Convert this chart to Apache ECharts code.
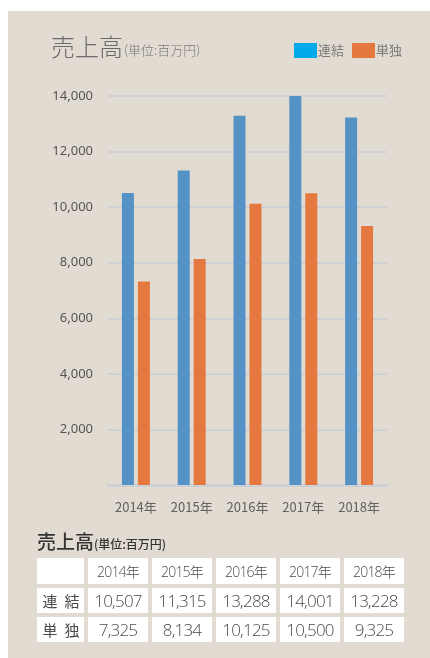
<!DOCTYPE html>
<html><head><meta charset="utf-8">
<script src="https://cdn.jsdelivr.net/npm/echarts@6/dist/echarts.min.js"></script>
<style>
html,body{margin:0;padding:0;background:#fff;width:430px;height:658px;overflow:hidden;}
#bg{position:absolute;left:8px;top:11px;width:422px;height:647px;background:#e1dbd1;}
#chart{position:absolute;left:0;top:0;width:430px;height:658px;}
#tbl{position:absolute;left:37px;top:530px;font-family:"Noto Sans CJK JP","Noto Sans",sans-serif;}
#tbl .ttl{color:#333;font-size:19px;font-weight:500;line-height:22px;height:24px;}
#tbl .ttl span{font-size:12px;}
#tbl table{border-collapse:separate;border-spacing:4px;margin-left:-4px;margin-top:0px;}
#tbl td{background:#fff;color:#4a4a4a;text-align:center;padding:0;font-family:"Open Sans","Noto Sans CJK JP",sans-serif;font-weight:300;}
#tbl tr.h td{height:26px;font-size:14px;letter-spacing:-0.8px;}
#tbl tr.r td{height:25px;font-size:17px;letter-spacing:-0.8px;}
#tbl tr.r td.lab{font-family:"Noto Sans CJK JP",sans-serif;font-size:15px;letter-spacing:0;font-weight:400;}
#tbl td.lab span{display:inline-block;width:14px;}
#tbl td.lab span+span{margin-left:8px;}
</style></head>
<body>
<div id="bg"></div>
<div id="chart"></div>
<div id="tbl"></div>
<script>
var categories = ['2014年','2015年','2016年','2017年','2018年'];
var seriesNames = ['連結','単独'];
var consolidated = [10507, 11315, 13288, 14001, 13228];
var standalone = [7325, 8134, 10125, 10500, 9325];
var tableTitle = '売上高';
var unitText = '(単位:百万円)';

var chart = echarts.init(document.getElementById('chart'), null, {renderer:'canvas'});
var blue = '#5592c6', orange = '#e5783f';
chart.setOption({
  backgroundColor:'transparent',
  animation:false,
  title:{
    text:'{a|'+tableTitle+'}{b|'+unitText+'}',
    left:46, top:30,
    textStyle:{rich:{
      a:{fontSize:24,color:'#6a6a6a',fontFamily:'Noto Sans CJK JP',fontWeight:300},
      b:{fontSize:13,color:'#7a7a7a',fontFamily:'Noto Sans CJK JP',fontWeight:300,padding:[7,0,0,1]}
    }}
  },
  legend:{
    left:289, top:38, itemWidth:23, itemHeight:15, itemGap:8,
    icon:'rect',
    textStyle:{fontSize:13,color:'#7a7a7a',fontFamily:'Noto Sans CJK JP',padding:[0,0,0,-4]},
    data:[{name:seriesNames[0],itemStyle:{color:'#00a9e8'}},{name:seriesNames[1],itemStyle:{color:'#e5783f'}}]
  },
  grid:{left:108,right:43,top:96,bottom:173},
  xAxis:{
    type:'category', data:categories,
    axisLine:{lineStyle:{color:'#cdd0d4',width:3}},
    axisTick:{show:false},
    axisLabel:{color:'#606060',fontSize:13,margin:16,fontFamily:'Noto Sans CJK JP'}
  },
  yAxis:{
    type:'value', min:0, max:14000, interval:2000,
    axisLine:{show:false}, axisTick:{show:false},
    splitLine:{lineStyle:{color:'#cdd0d4',width:2}},
    axisLabel:{color:'#555',fontSize:13,margin:15,fontFamily:'Noto Sans',
      formatter:function(v){return v===0?'':v.toLocaleString('en-US');}}
  },
  series:[
    {name:seriesNames[0],type:'bar',data:consolidated,barWidth:12,barGap:'33%',itemStyle:{color:blue}},
    {name:seriesNames[1],type:'bar',data:standalone,barWidth:12,barGap:'33%',itemStyle:{color:orange}}
  ]
});

// table
var h = '<div class="ttl">'+tableTitle+'<span>'+unitText+'</span></div><table>';
var widths=[47,60,60,60,60,60];
h += '<tr class="h"><td style="width:'+widths[0]+'px"></td>';
categories.forEach(function(c,i){h+='<td style="width:'+widths[i+1]+'px">'+c+'</td>';});
h += '</tr>';
[[seriesNames[0],consolidated],[seriesNames[1],standalone]].forEach(function(r){
  h += '<tr class="r"><td class="lab">'+r[0].split('').map(function(ch){return '<span>'+ch+'</span>';}).join('')+'</td>';
  r[1].forEach(function(v){h+='<td>'+v.toLocaleString('en-US')+'</td>';});
  h += '</tr>';
});
h += '</table>';
document.getElementById('tbl').innerHTML = h;
</script>
</body></html>
